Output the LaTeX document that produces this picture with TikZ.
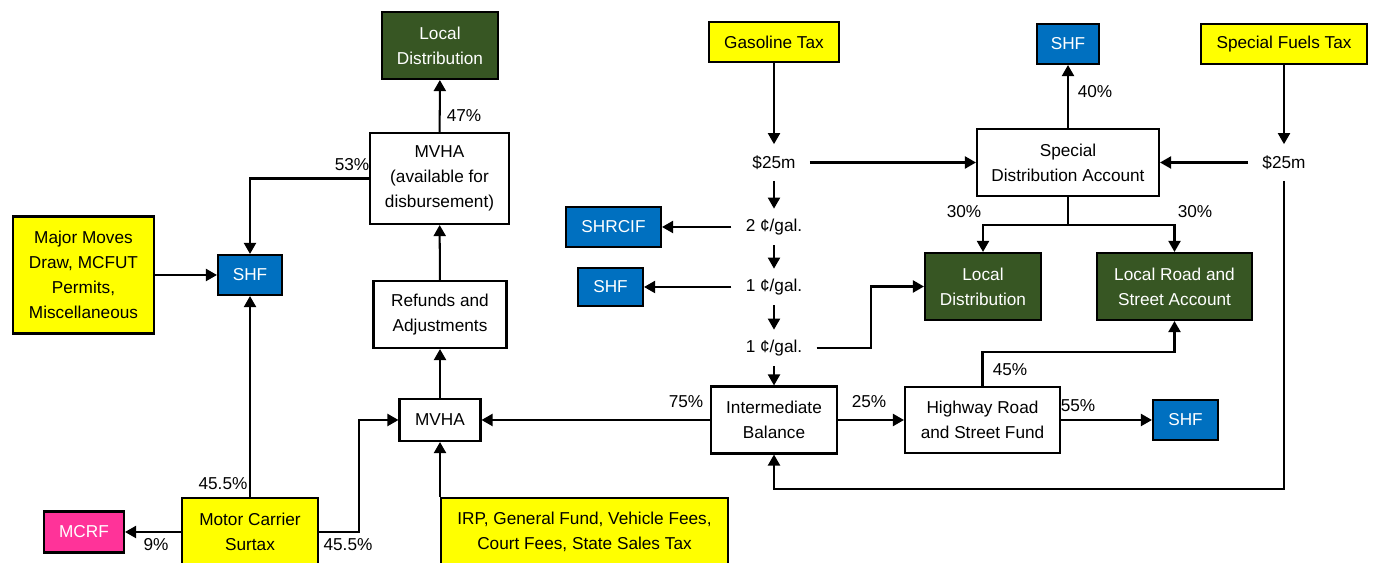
\documentclass[tikz,border=0pt]{standalone}
\usepackage{fontspec}
\setmainfont{Liberation Sans}
\usetikzlibrary{arrows.meta}
\definecolor{fundyellow}{HTML}{FFFF00}
\definecolor{fundblue}{HTML}{0070C0}
\definecolor{fundgreen}{HTML}{375623}
\definecolor{fundpink}{HTML}{FF3399}
\begin{document}
\begin{tikzpicture}[
		x=0.02cm, y=-0.02cm,
		font=\fontsize{9.8}{14.2}\selectfont,
		box/.style = {
			draw,
			line width=1.2pt,
			align=center,
			inner sep=0pt
		},
		source/.style = {box, fill=fundyellow},
		fund/.style = {box, fill=fundblue, text=white},
		local/.style = {box, fill=fundgreen, text=white},
		reserve/.style = {box, fill=fundpink, text=white},
		amount/.style = {inner xsep=0.28cm, inner ysep=0pt, minimum height=0.72cm},
		pct/.style = {inner sep=0pt},
		link/.style = {line width=1.15pt},
		flow/.style = {link, -{Triangle[length=0.22cm,width=0.24cm]}}
	]
	\useasboundingbox (0,0) rectangle (1374,563);
	% left side
	\node[local, minimum width=2.32cm, minimum height=1.34cm]   (ldL)    at (440,45.5)  {Local\\Distribution};
	\node[box, minimum width=2.78cm, minimum height=1.82cm]     (mvhaA)  at (439.5,178.5) {MVHA\\(available for\\disbursement)};
	\node[box, minimum width=2.66cm, minimum height=1.34cm]     (refund) at (440,314.5) {Refunds and\\Adjustments};
	\node[box, minimum width=1.62cm, minimum height=0.84cm]     (mvha)   at (440,420)   {MVHA};
	\node[source, minimum width=5.74cm, minimum height=1.36cm]  (irp)    at (584.5,532) {IRP, General Fund, Vehicle Fees,\\Court Fees, State Sales Tax};
	\node[source, minimum width=2.72cm, minimum height=1.36cm]  (mcs)    at (250,532)   {Motor Carrier\\Surtax};
	\node[reserve, minimum width=1.6cm, minimum height=0.82cm]  (mcrf)   at (84,532)    {MCRF};
	\node[fund, minimum width=1.28cm, minimum height=0.8cm]     (shfL)   at (250,275)   {SHF};
	\node[source, minimum width=2.82cm, minimum height=2.34cm]  (major)  at (83.5,275)  {Major Moves\\Draw, MCFUT\\Permits,\\Miscellaneous};
	% gasoline column
	\node[source, minimum width=2.6cm, minimum height=0.8cm]    (gas)    at (774,42)    {Gasoline Tax};
	\node[amount]                                              (g25)    at (774,162.5) {\$25m};
	\node[amount]                                              (c2)     at (774,227)   {2 ¢/gal.};
	\node[amount]                                              (c1a)    at (774,287)   {1 ¢/gal.};
	\node[amount]                                              (c1b)    at (774,348)   {1 ¢/gal.};
	\node[fund, minimum width=1.9cm, minimum height=0.8cm]      (shrcif) at (613.5,227) {SHRCIF};
	\node[fund, minimum width=1.3cm, minimum height=0.76cm]     (shfM)   at (610.5,287) {SHF};
	\node[box, minimum width=2.52cm, minimum height=1.34cm]     (ib)     at (774,420)   {Intermediate\\Balance};
	% right side
	\node[box, minimum width=3.64cm, minimum height=1.34cm]     (sda)    at (1068,162.5) {Special\\Distribution Account};
	\node[fund, minimum width=1.24cm, minimum height=0.8cm]     (shfT)   at (1068,44)   {SHF};
	\node[source, minimum width=3.32cm, minimum height=0.8cm]   (sft)    at (1284,44)   {Special Fuels Tax};
	\node[amount]                                              (s25)    at (1284,162.5) {\$25m};
	\node[local, minimum width=2.32cm, minimum height=1.34cm]   (ldR)    at (983,286.5) {Local\\Distribution};
	\node[local, minimum width=3.1cm, minimum height=1.34cm]    (lrsa)   at (1174.5,286.5) {Local Road and\\Street Account};
	\node[box, minimum width=3.1cm, minimum height=1.32cm]      (hrsf)   at (982.5,420) {Highway Road\\and Street Fund};
	\node[fund, minimum width=1.3cm, minimum height=0.8cm]      (shfB)   at (1185.5,420) {SHF};
	\coordinate (split) at (1068,225);
	\coordinate (loop)  at (1284,489);
	% connectors
	\draw[flow] (mvha) -- (refund);
	\draw[flow] (refund) -- (mvhaA);
	\draw[flow] (mvhaA) -- (ldL);
	\draw[flow] (mvhaA.west) -| (shfL.north);
	\draw[flow] (major) -- (shfL);
	\draw[flow] (mcs) -- (shfL);
	\draw[flow] (mcs) -- (mcrf);
	\draw[flow] (mcs.east) -- ++(40,0) |- (mvha.west);
	\draw[flow] (mvha.south |- irp.north) -- (mvha.south);
	\draw[flow] (ib) -- (mvha);
	\draw[flow] (gas) -- (g25);
	\draw[flow] (g25) -- (c2);
	\draw[flow] (c2) -- (c1a);
	\draw[flow] (c1a) -- (c1b);
	\draw[flow] (c1b) -- (ib);
	\draw[flow] (c2) -- (shrcif);
	\draw[flow] (c1a) -- (shfM);
	\draw[flow] (c1b.east) -- ++(54,0) |- (ldR.west);
	\draw[flow] (g25) -- (sda);
	\draw[flow] (sft) -- (s25);
	\draw[flow] (s25) -- (sda);
	\draw[flow] (sda) -- (shfT);
	\draw[link] (sda.south) -- (split);
	\draw[flow] (split) -| (ldR.north);
	\draw[flow] (split) -| (lrsa.north);
	\draw[flow] (ib) -- (hrsf);
	\draw[flow] (hrsf) -- (shfB);
	\draw[flow] (hrsf.north) -- ++(0,-34) -| (lrsa.south);
	\draw[flow] (s25.south) -- (loop) -| (ib.south);
	% shares
	\node[pct] at (352,165) {53\%};
	\node[pct] at (464,116) {47\%};
	\node[pct] at (223,484) {45.5\%};
	\node[pct] at (156,545) {9\%};
	\node[pct] at (348,545) {45.5\%};
	\node[pct] at (686,402) {75\%};
	\node[pct] at (869,402) {25\%};
	\node[pct] at (1010,370) {45\%};
	\node[pct] at (1078,406) {55\%};
	\node[pct] at (1095,92) {40\%};
	\node[pct] at (964,212) {30\%};
	\node[pct] at (1195,212) {30\%};
\end{tikzpicture}
\end{document}
